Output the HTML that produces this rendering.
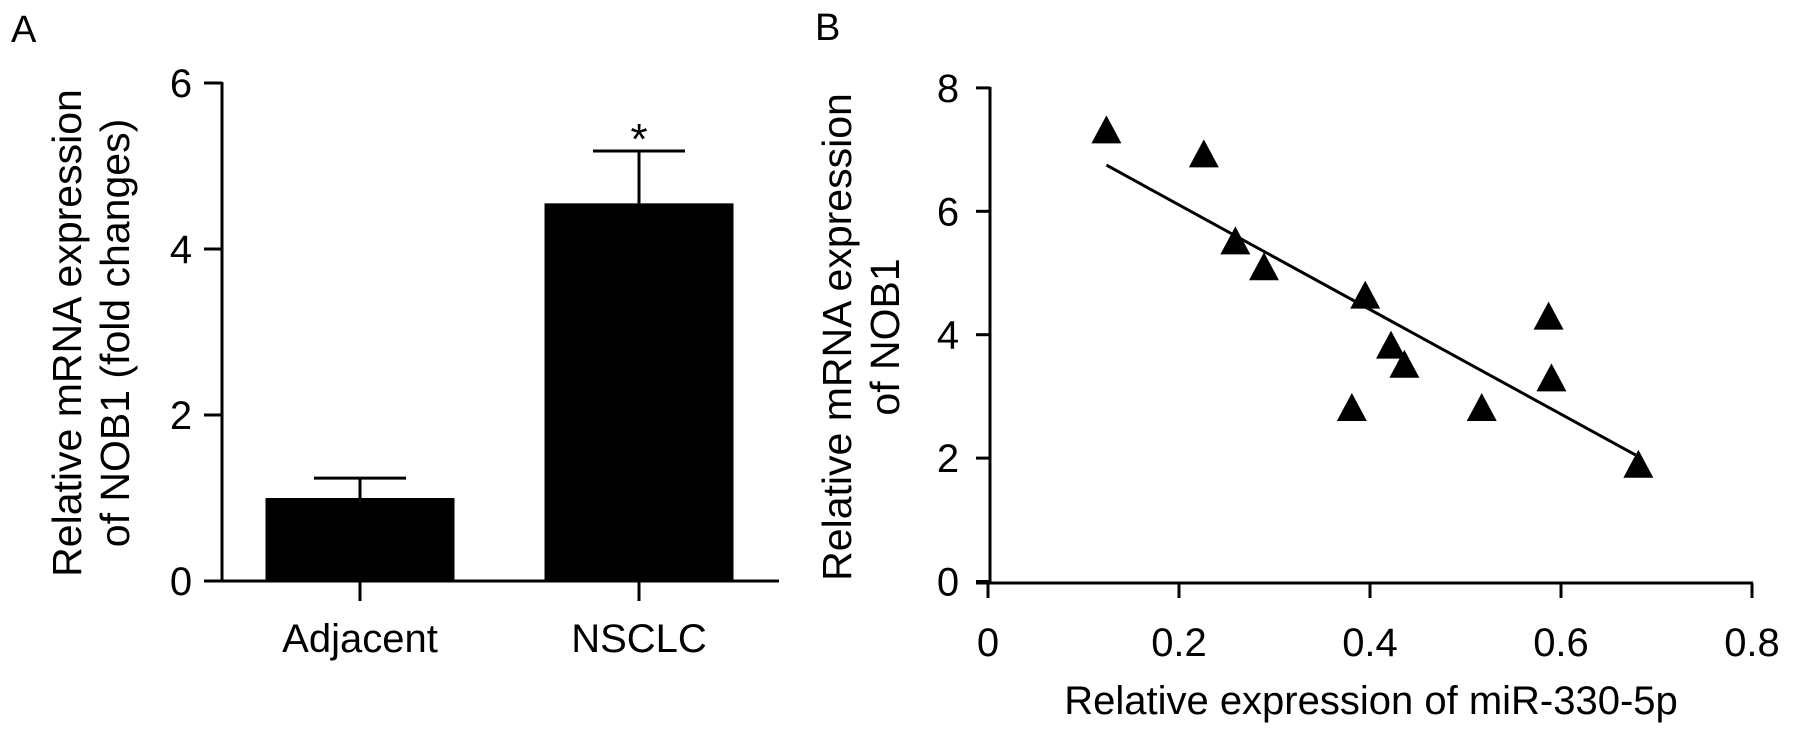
<!DOCTYPE html>
<html><head><meta charset="utf-8"><style>
html,body{margin:0;padding:0;background:#fff;}
svg{display:block;font-family:"Liberation Sans",Arial,sans-serif;}
</style></head><body>
<svg id="fig" width="1793" height="741" viewBox="0 0 1793 741">
<text x="11" y="42" font-size="38">A</text>
<text x="815" y="40" font-size="38">B</text>
<g id="panelA"></g>
<g id="panelB"></g>
</svg>
<script>
const NS="http://www.w3.org/2000/svg";
// Panel A data
const barCategories=["Adjacent","NSCLC"];
const barValues=[1.0,4.55];
const barErrors=[0.24,0.63];
const barSignif=["","*"];
const aTicks=[0,2,4,6];
// Panel B data
const scatterX=[0.124,0.226,0.259,0.289,0.395,0.422,0.436,0.381,0.517,0.587,0.590,0.681];
const scatterY=[7.28,6.89,5.48,5.06,4.60,3.79,3.48,2.78,2.78,4.26,3.26,1.86];
const fitSlope=-8.48, fitIntercept=7.80;
const fitRange=[0.124,0.678];
const bXTicks=[0,0.2,0.4,0.6,0.8];
const bXTickLabels=["0","0.2","0.4","0.6","0.8"];
const bYTicks=[0,2,4,6,8];

function mk(tag,attrs,parent,txt){const e=document.createElementNS(NS,tag);for(const k in attrs)e.setAttribute(k,attrs[k]);if(txt!==undefined)e.textContent=txt;parent.appendChild(e);return e;}

// ---- Panel A ----
const A=document.getElementById('panelA');
const ay=v=>581-v*83;
const bandCenters=i=>360+i*279;
const bw=189;
let e;
e=mk('line',{x1:222,y1:ay(6)-1,x2:222,y2:ay(0)+1.5,stroke:'#000','stroke-width':3},A);

e=mk('line',{x1:204,y1:ay(0),x2:779,y2:ay(0),stroke:'#000','stroke-width':3},A);

aTicks.forEach(t=>{
  e=mk('line',{x1:204,y1:ay(t),x2:222,y2:ay(t),stroke:'#000','stroke-width':3},A);
  
  e=mk('text',{x:181,y:ay(t)+14,'font-size':40,'text-anchor':'middle'},A,String(t));
  
});
barCategories.forEach((c,i)=>{
  const cx=bandCenters(i);
  e=mk('rect',{x:cx-bw/2,y:ay(barValues[i]),width:bw,height:ay(0)-ay(barValues[i]),fill:'#000'},A);
  
  const top=ay(barValues[i]+barErrors[i]);
  e=mk('line',{x1:cx,y1:top,x2:cx,y2:ay(barValues[i]),stroke:'#000','stroke-width':3},A);
  
  e=mk('line',{x1:cx-46,y1:top,x2:cx+46,y2:top,stroke:'#000','stroke-width':3},A);
  
  if(barSignif[i]){
    e=mk('text',{x:cx,y:top+3,'font-size':44,'text-anchor':'middle'},A,barSignif[i]);
    
  }
  e=mk('line',{x1:cx,y1:ay(0),x2:cx,y2:601,stroke:'#000','stroke-width':3},A);
  
  e=mk('text',{x:cx,y:652,'font-size':40,'text-anchor':'middle'},A,c);
  
});
e=mk('text',{transform:'translate(81,333) rotate(-90)','font-size':41,'text-anchor':'middle'},A,'Relative mRNA expression');

e=mk('text',{transform:'translate(129,333) rotate(-90)','font-size':41,'text-anchor':'middle'},A,'of NOB1 (fold changes)');


// ---- Panel B ----
const B=document.getElementById('panelB');
const bx=v=>988+v*955;
const by=v=>581.5-v*61.7;
e=mk('line',{x1:990,y1:by(8)-1,x2:990,y2:583,stroke:'#000','stroke-width':3},B);

e=mk('line',{x1:976,y1:583,x2:bx(0.8)+1,y2:583,stroke:'#000','stroke-width':3},B);

bYTicks.forEach(t=>{
  e=mk('line',{x1:976,y1:by(t),x2:990,y2:by(t),stroke:'#000','stroke-width':3},B);
  
  e=mk('text',{x:948,y:by(t)+14,'font-size':40,'text-anchor':'middle'},B,String(t));
  
});
bXTicks.forEach((t,i)=>{
  e=mk('line',{x1:bx(t),y1:583,x2:bx(t),y2:598,stroke:'#000','stroke-width':3},B);
  
  e=mk('text',{x:bx(t),y:656,'font-size':40,'text-anchor':'middle'},B,bXTickLabels[i]);
  
});
e=mk('line',{x1:bx(fitRange[0]),y1:by(fitIntercept+fitSlope*fitRange[0]),x2:bx(fitRange[1]),y2:by(fitIntercept+fitSlope*fitRange[1]),stroke:'#000','stroke-width':3},B);

scatterX.forEach((xv,i)=>{
  const cx=bx(xv),cy=by(scatterY[i]);
  e=mk('polygon',{points:`${cx},${cy-17} ${cx-15},${cy+11} ${cx+15},${cy+11}`,fill:'#000'},B);
  
});
e=mk('text',{x:1371,y:714,'font-size':40,'text-anchor':'middle'},B,'Relative expression of miR-330-5p');

e=mk('text',{transform:'translate(851,337) rotate(-90)','font-size':41,'text-anchor':'middle'},B,'Relative mRNA expression');

e=mk('text',{transform:'translate(899,337) rotate(-90)','font-size':41,'text-anchor':'middle'},B,'of NOB1');

</script>
</body></html>
